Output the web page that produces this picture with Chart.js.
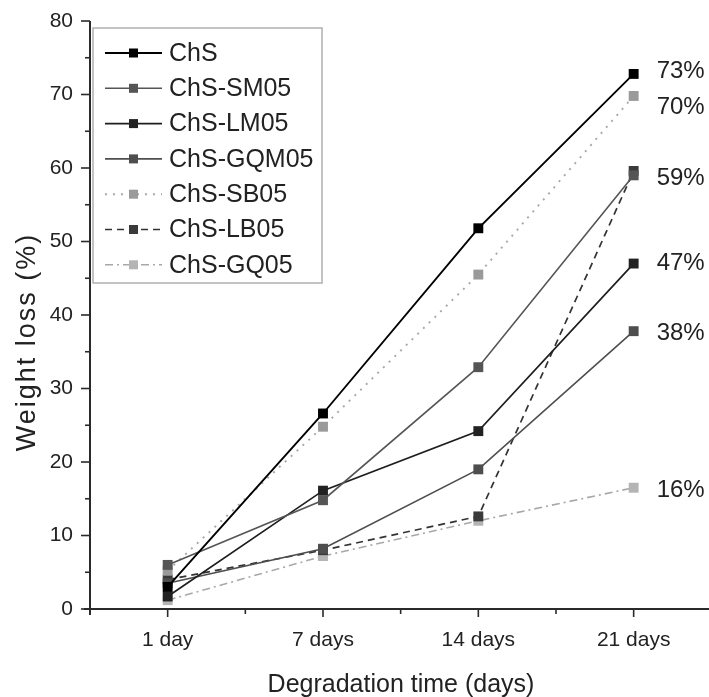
<!DOCTYPE html>
<html>
<head>
<meta charset="utf-8">
<script src="https://cdn.jsdelivr.net/npm/chart.js@4.4.1/dist/chart.umd.min.js"></script>
<style>
  html, body { margin: 0; padding: 0; background: #fff; }
  #wrap { width: 709px; height: 697px; }
</style>
</head>
<body>
<div id="wrap"><canvas id="chart" width="709" height="697"></canvas></div>
<script>
// data
const categories = ['1 day', '7 days', '14 days', '21 days'];
const seriesNames = ['ChS', 'ChS-SM05', 'ChS-LM05', 'ChS-GQM05', 'ChS-SB05', 'ChS-LB05', 'ChS-GQ05'];
const chs      = [3.0, 26.6, 51.8, 72.8];
const chsSM05  = [6.0, 14.8, 32.9, 59.0];
const chsLM05  = [1.7, 16.1, 24.2, 47.0];
const chsGQM05 = [3.5, 8.2, 19.0, 37.8];
const chsSB05  = [5.2, 24.8, 45.5, 69.8];
const chsLB05  = [4.0, 8.0, 12.6, 59.6];
const chsGQ05  = [1.2, 7.2, 12.0, 16.5];
const yTicks = [0, 10, 20, 30, 40, 50, 60, 70, 80];
const endLabels = ['73%', '70%', '59%', '47%', '38%', '16%'];
const endLabelSeries = [0, 4, 1, 2, 3, 6];

const seriesValues = [chs, chsSM05, chsLM05, chsGQM05, chsSB05, chsLB05, chsGQ05];

// line looks
const looks = [
  { line: '#000000', mark: '#000000', dash: [], width: 1.9 },
  { line: '#555555', mark: '#555555', dash: [], width: 1.6 },
  { line: '#1e1e1e', mark: '#222222', dash: [], width: 1.7 },
  { line: '#4e4e4e', mark: '#4e4e4e', dash: [], width: 1.6 },
  { line: '#a8a8a8', mark: '#9a9a9a', dash: [2, 6], width: 1.9 },
  { line: '#333333', mark: '#3a3a3a', dash: [7, 5], width: 1.7 },
  { line: '#a8a8a8', mark: '#b4b4b4', dash: [8, 4, 2, 4], width: 1.6 }
];

const FONT = "'Liberation Sans', Arial, sans-serif";
const INK = '#222';

const datasets = seriesNames.map((name, i) => ({
  label: name,
  data: seriesValues[i].map((v, j) => ({ x: j + 1, y: v })),
  borderColor: looks[i].line,
  borderWidth: looks[i].width,
  borderDash: looks[i].dash,
  backgroundColor: looks[i].mark,
  pointStyle: 'rect',
  pointRadius: 7,
  pointBorderWidth: 0,
  pointBackgroundColor: looks[i].mark,
  tension: 0
}));

function seg(ctx, x1, y1, x2, y2) {
  ctx.beginPath(); ctx.moveTo(x1, y1); ctx.lineTo(x2, y2); ctx.stroke();
}

const decor = {
  id: 'decor',
  beforeDatasetsDraw(chart) {
    const { ctx, chartArea: a, scales: { x, y } } = chart;
    ctx.save();
    ctx.strokeStyle = '#2a2a2a';
    ctx.lineWidth = 2;
    seg(ctx, a.left, a.top, a.left, a.bottom + 6);
    seg(ctx, a.left - 6, a.bottom, 709, a.bottom);
    ctx.lineWidth = 1.6;
    for (let v = 0; v <= 80; v += 5) {
      const py = y.getPixelForValue(v);
      seg(ctx, a.left - (v % 10 === 0 ? 9 : 5), py, a.left, py);
    }
    for (let v = 1; v <= 4; v += 0.5) {
      const px = x.getPixelForValue(v);
      seg(ctx, px, a.bottom, px, a.bottom + (Number.isInteger(v) ? 8 : 5));
    }
    ctx.restore();
  },
  afterDraw(chart) {
    const { ctx } = chart;
    ctx.save();

    // legend box
    ctx.strokeStyle = '#b0b0b0';
    ctx.lineWidth = 1.5;
    ctx.strokeRect(93, 28, 229, 255);
    ctx.font = '25px ' + FONT;
    ctx.textBaseline = 'middle';
    seriesNames.forEach((name, i) => {
      const ry = 53 + i * 35.3;
      ctx.strokeStyle = looks[i].line;
      ctx.lineWidth = looks[i].width;
      ctx.setLineDash(looks[i].dash);
      seg(ctx, 105, ry, 162, ry);
      ctx.setLineDash([]);
      ctx.fillStyle = looks[i].mark;
      ctx.fillRect(129, ry - 4.5, 9, 9);
      ctx.fillStyle = INK;
      ctx.fillText(name, 169, ry + 1);
    });

    // percentages at 21 days
    ctx.font = '24px ' + FONT;
    const shift = { 0: -3, 4: 11, 1: 3, 2: 0, 3: 2, 6: 3 };
    endLabels.forEach((txt, k) => {
      const di = endLabelSeries[k];
      const pts = chart.getDatasetMeta(di).data;
      const p = pts[pts.length - 1];
      ctx.fillStyle = INK;
      ctx.fillText(txt, p.x + 23, p.y + shift[di]);
    });

    // axis titles
    ctx.font = '25px ' + FONT;
    ctx.textAlign = 'center';
    ctx.textBaseline = 'alphabetic';
    ctx.fillText('Degradation time (days)', 401, 692);

    ctx.translate(34.5, 342);
    ctx.rotate(-Math.PI / 2);
    ctx.font = '27px ' + FONT;
    ctx.letterSpacing = '2px';
    ctx.fillText('Weight loss (%)', 0, 0);
    ctx.restore();
  }
};

new Chart(document.getElementById('chart'), {
  type: 'line',
  data: { datasets },
  options: {
    responsive: false,
    animation: false,
    layout: { padding: { top: 21, left: 0, right: 0, bottom: 0 } },
    plugins: { legend: { display: false }, tooltip: { enabled: false } },
    scales: {
      x: {
        type: 'linear',
        min: 0.5,
        max: 4.44,
        afterBuildTicks: (s) => { s.ticks = categories.map((c, i) => ({ value: i + 1 })); },
        afterFit: (s) => { s.height = 88; s.paddingLeft = 0; s.paddingRight = 0; },
        grid: { display: false, drawTicks: false },
        border: { display: false },
        ticks: {
          padding: 19,
          autoSkip: false,
          maxRotation: 0,
          color: INK,
          font: { family: FONT, size: 21 },
          callback: (v) => categories[v - 1] || ''
        }
      },
      y: {
        min: 0,
        max: 80,
        afterBuildTicks: (s) => { s.ticks = yTicks.map(v => ({ value: v })); },
        afterFit: (s) => { s.width = 90; s.paddingTop = 0; s.paddingBottom = 0; },
        grid: { display: false, drawTicks: false },
        border: { display: false },
        ticks: {
          padding: 17,
          color: INK,
          font: { family: FONT, size: 21 }
        }
      }
    }
  },
  plugins: [decor]
});
</script>
</body>
</html>
